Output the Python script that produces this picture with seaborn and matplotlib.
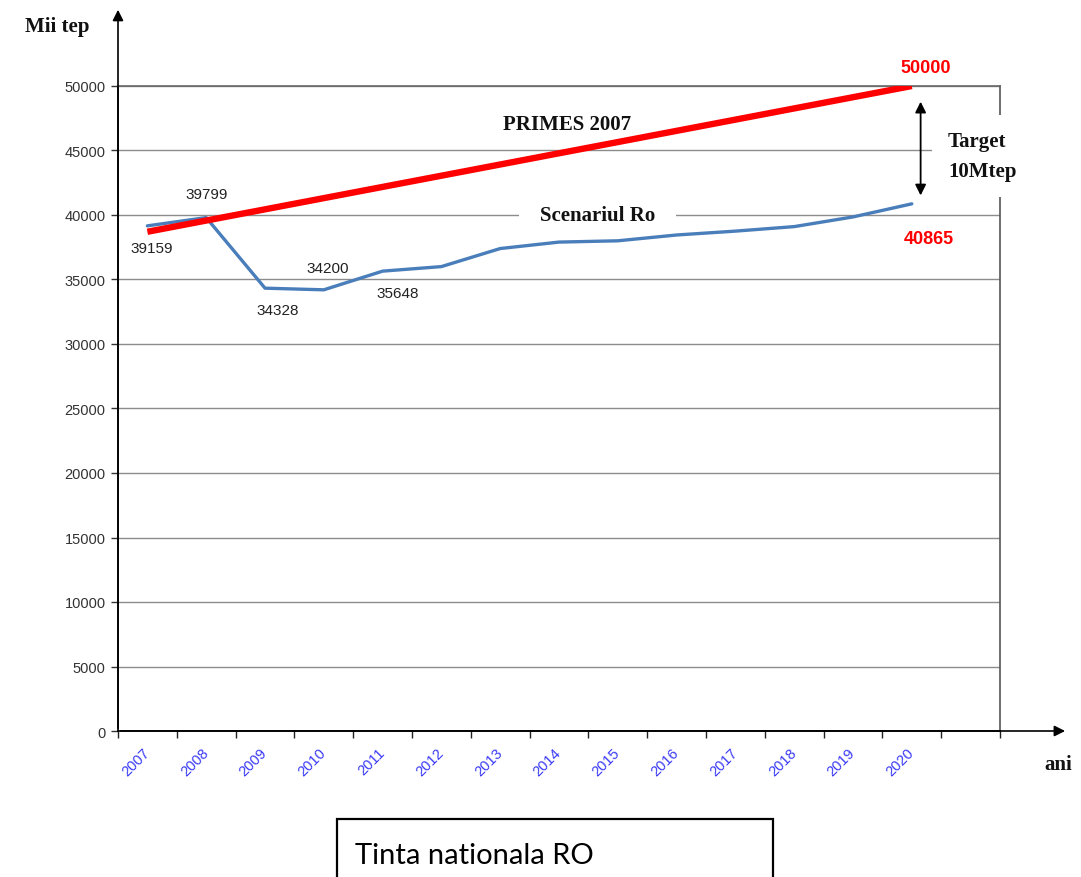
import pandas as pd
import numpy as np
import matplotlib.pyplot as plt
import matplotlib.patches as patches
import matplotlib.transforms as mtransforms
import seaborn as sns

# ---- data ----
years = ['2007', '2008', '2009', '2010', '2011', '2012', '2013',
         '2014', '2015', '2016', '2017', '2018', '2019', '2020']
scenariu_ro = [39159, 39799, 34328, 34200, 35648, 36000, 37400,
               37900, 38000, 38450, 38750, 39100, 39850, 40865]
primes_years = ['2007', '2020']
primes_2007 = [38700, 50000]
y_ticks = [0, 5000, 10000, 15000, 20000, 25000, 30000, 35000, 40000, 45000, 50000]

# labels that sit next to the blue points: (year, value, offset in points)
point_labels = [('2007', 39159, (3, -16)),
                ('2008', 39799, (0.5, 17)),
                ('2009', 34328, (9, -16)),
                ('2010', 34200, (3, 16)),
                ('2011', 35648, (11, -16))]

df_ro = pd.DataFrame({'idx': [years.index(y) for y in years], 'value': scenariu_ro})
df_primes = pd.DataFrame({'idx': [years.index(y) for y in primes_years], 'value': primes_2007})

sns.set_style("white")
plt.rcParams['font.family'] = ['Liberation Sans', 'DejaVu Sans']

W, H = 1081, 878
fig = plt.figure(figsize=(W / 100, H / 100), dpi=100)
ax = fig.add_axes([118 / W, 1 - 732 / H, (1000 - 118) / W, (732 - 87) / H])

# ---- series ----
sns.lineplot(data=df_ro, x='idx', y='value', ax=ax, color='#4a7ebb', lw=2.4, zorder=3)
sns.lineplot(data=df_primes, x='idx', y='value', ax=ax, color='#ff0000', lw=4.6,
             zorder=4, solid_capstyle='butt')

ax.set_xlim(-0.5, 14.5)
ax.set_ylim(0, 50000)
ax.set_xlabel('')
ax.set_ylabel('')

# ---- axes styling ----
ax.set_yticks(y_ticks)
ax.set_yticklabels([str(v) for v in y_ticks], fontsize=10.5, color='#333333')
ax.yaxis.grid(True, color='#8c8c8c', lw=1.0)
ax.xaxis.grid(False)
ax.set_axisbelow(True)
ax.tick_params(axis='y', length=5, width=1, direction='out', color='#333333', pad=4, left=True)

ax.set_xticks(range(len(years)))
ax.set_xticklabels(years, rotation=45, ha='right', rotation_mode='anchor',
                   fontsize=10.5, color='#3a3af5')
ax.set_xticks(np.arange(-0.5, 15, 1), minor=True)
ax.tick_params(axis='x', which='major', length=0, pad=10)
ax.tick_params(axis='x', which='minor', length=5, width=1, direction='out',
               color='#222222', bottom=True)
shift = mtransforms.ScaledTranslation(-5 / 100, 0, fig.dpi_scale_trans)
for lbl in ax.get_xticklabels():
    lbl.set_transform(lbl.get_transform() + shift)

ax.spines['left'].set_color('black')
ax.spines['left'].set_linewidth(1.2)
ax.spines['bottom'].set_color('black')
ax.spines['bottom'].set_linewidth(1.2)
ax.spines['top'].set_color('#666666')
ax.spines['right'].set_color('#555555')
ax.spines['top'].set_linewidth(1.2)
ax.spines['right'].set_linewidth(1.2)

# axis arrows
ax.annotate('', xy=(0, 1.1225), xycoords='axes fraction', xytext=(0, 0),
            arrowprops=dict(arrowstyle='-|>', color='black', lw=1.2, mutation_scale=16),
            annotation_clip=False)
ax.annotate('', xy=(1.077, 0), xycoords='axes fraction', xytext=(0, 0),
            arrowprops=dict(arrowstyle='-|>', color='black', lw=1.2, mutation_scale=16),
            annotation_clip=False)

# ---- annotations ----
for yr, val, off in point_labels:
    ax.annotate(str(val), xy=(years.index(yr), val), xytext=off, textcoords='offset points',
                ha='center', va='center', fontsize=11, color='#222222')

ax.annotate(str(primes_2007[-1]), xy=(years.index('2020'), primes_2007[-1]), xytext=(10, 13),
            textcoords='offset points', ha='center', va='center', fontsize=13,
            fontweight='bold', color='#ff0000', annotation_clip=False)
ax.annotate(str(scenariu_ro[-1]), xy=(years.index('2020'), scenariu_ro[-1]), xytext=(12, -25),
            textcoords='offset points', ha='center', va='center', fontsize=13,
            fontweight='bold', color='#ff0000')

# target double arrow
ax.annotate('', xy=(13.15, 49000), xytext=(13.15, 41300),
            arrowprops=dict(arrowstyle='<|-|>', color='black', lw=1.3, mutation_scale=16))

serif = ['Liberation Serif', 'DejaVu Serif']
ax.text(7.14, 47054, 'PRIMES 2007', ha='center', va='center', fontsize=15,
        fontweight='bold', family=serif, color='#111111')
ax.text(7.65, 40000, 'Scenariul Ro', ha='center', va='center', fontsize=15,
        fontweight='bold', family=serif, color='#111111', zorder=1,
        bbox=dict(boxstyle='square,pad=1.0', fc='white', ec='none'))

fig.text(948 / W, 1 - 157 / H, 'Target\n10Mtep', ha='left', va='center', fontsize=15,
         fontweight='bold', family=serif, color='#111111', linespacing=1.7,
         bbox=dict(boxstyle='square,pad=0.75', fc='white', ec='none'))

fig.text(57 / W, 1 - 27 / H, 'Mii tep', ha='center', va='center', fontsize=15,
         fontweight='bold', family=serif, color='#111111')
fig.text(1058 / W, 1 - 765 / H, 'ani', ha='center', va='center', fontsize=15,
         fontweight='bold', family=serif, color='#111111')

# title box at the bottom
fig.patches.append(patches.Rectangle((337 / W, -0.01), (773 - 337) / W, 0.01 + (878 - 820) / H,
                                     transform=fig.transFigure, fill=False,
                                     ec='black', lw=1.6))
fig.text(355 / W, 1 - 856 / H, 'Tinta nationala RO', ha='left', va='center',
         fontsize=21, family=['Lato', 'DejaVu Sans'], color='black')

fig.savefig('out.png', dpi=100)
